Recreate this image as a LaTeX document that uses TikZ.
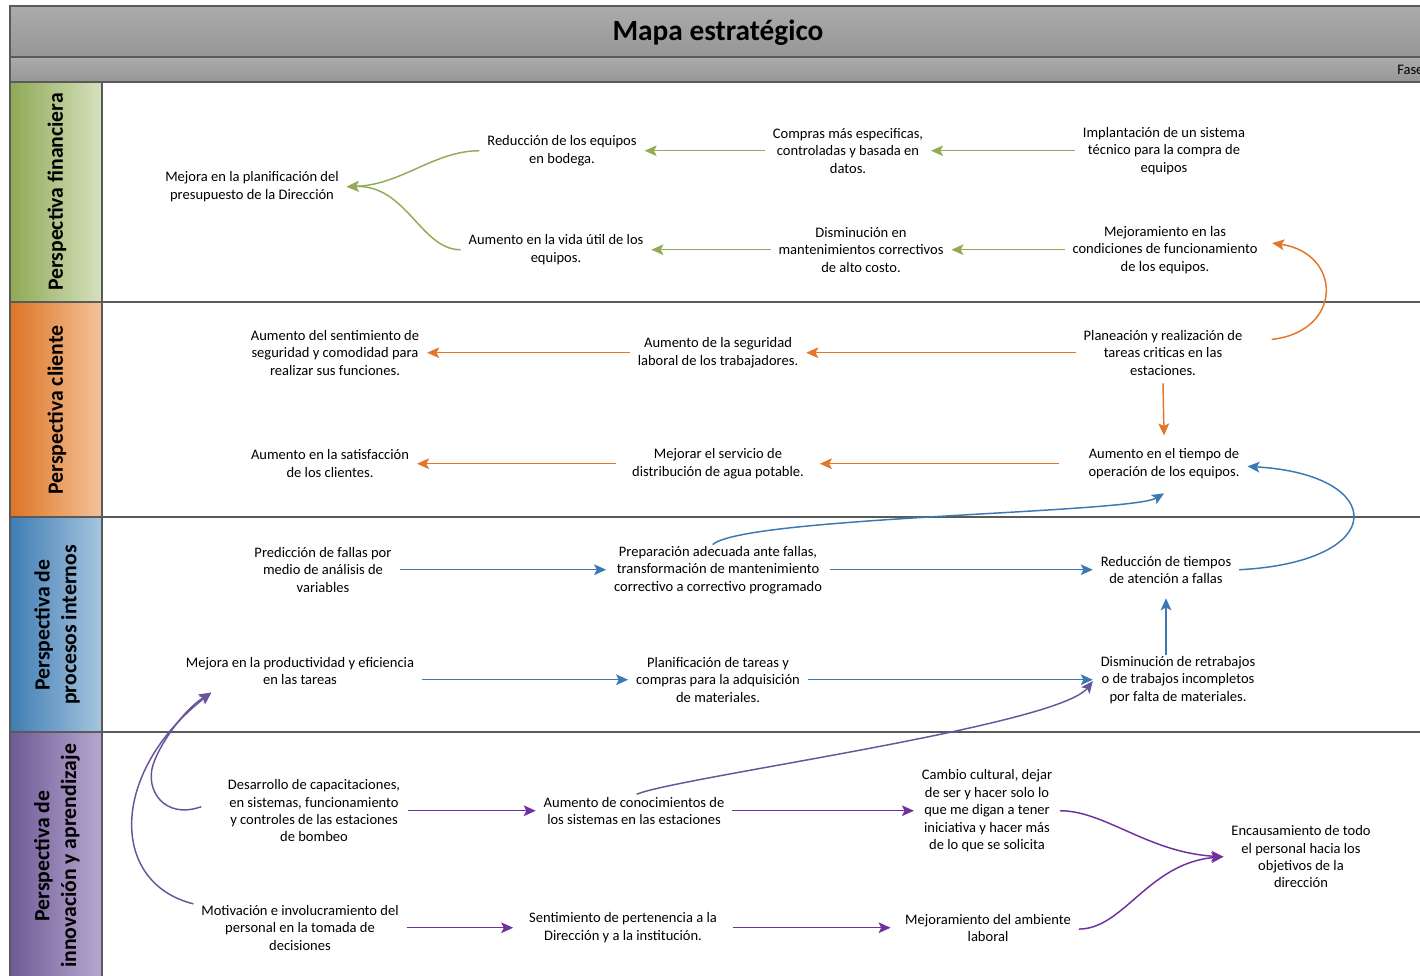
\documentclass[tikz,border=0pt]{standalone}
\usepackage{fontspec}
\setmainfont{Carlito}
\usetikzlibrary{arrows.meta}
\definecolor{grn}{HTML}{93AB57}
\definecolor{org}{HTML}{E2762A}
\definecolor{blu}{HTML}{3B78B4}
\definecolor{pur}{HTML}{7030A0}
\definecolor{mpur}{HTML}{6A5499}
\definecolor{frame}{HTML}{5A5A5A}
\definecolor{hdrT}{HTML}{ABABAB}
\definecolor{hdrB}{HTML}{969696}
\definecolor{finL}{HTML}{8FA955}
\definecolor{finR}{HTML}{D6E1BF}
\definecolor{cliL}{HTML}{DE7425}
\definecolor{cliR}{HTML}{F3C39A}
\definecolor{proL}{HTML}{3E7DB3}
\definecolor{proR}{HTML}{A7C5E0}
\definecolor{innL}{HTML}{6E5A96}
\definecolor{innR}{HTML}{B6A8CF}
\tikzset{
  txt/.style={align=center, inner sep=0pt, outer sep=6pt, font=\fontsize{10.9}{13.1}\selectfont, text=black, yshift=-1.3pt},
  lbl/.style={align=center, inner sep=0pt, rotate=90, font=\fontsize{16.3}{20}\selectfont\bfseries},
  conn/.style={line width=1.1pt, -{Stealth[length=9pt,width=8pt,inset=2pt]}},
  gconn/.style={conn, draw=grn, color=grn},
  oconn/.style={conn, draw=org, color=org},
  bconn/.style={conn, draw=blu, color=blu},
  pconn/.style={conn, draw=pur, color=pur},
  mconn/.style={conn, draw=mpur, color=mpur},
  cell/.style={draw=frame, line width=1.1pt},
}
\begin{document}
\begin{tikzpicture}[x=0.75pt,y=-0.75pt]
\useasboundingbox (0,0) rectangle (1420,975);
\fill[white] (0,0) rectangle (1420,975);
\begin{scope}
\clip (0,0) rectangle (1420,975);
% header bands
\shadedraw[cell, top color=hdrT, bottom color=hdrB] (10,6) rectangle (1440,57);
\shadedraw[cell, top color=hdrT, bottom color=hdrB] (10,57) rectangle (1440,82);
% rows
\draw[cell, fill=white] (102,82) rectangle (1440,302);
\draw[cell, fill=white] (102,302) rectangle (1440,517);
\draw[cell, fill=white] (102,517) rectangle (1440,732);
\draw[cell, fill=white] (102,732) rectangle (1440,990);
\shadedraw[cell, left color=finL, right color=finR] (10,82) rectangle (102,302);
\shadedraw[cell, left color=cliL, right color=cliR] (10,302) rectangle (102,517);
\shadedraw[cell, left color=proL, right color=proR] (10,517) rectangle (102,732);
\shadedraw[cell, left color=innL, right color=innR] (10,732) rectangle (102,990);

\node[font=\fontsize{22}{26}\selectfont\bfseries, inner sep=0pt] (title) at (718,33) {Mapa estratégico};
\node[anchor=west, inner sep=0pt, font=\fontsize{10.9}{13}\selectfont] (fase) at (1397,70) {Fase};

\node[lbl] (lblF) at (57,192) {Perspectiva financiera};
\node[lbl] (lblC) at (57,410) {Perspectiva cliente};
\node[lbl] (lblP) at (57,625) {Perspectiva de\\procesos internos};
\node[lbl] (lblI) at (57,856) {Perspectiva de\\innovación y aprendizaje};

% Financiera
\node[txt] (A1) at (252,185) {Mejora en la planificación del\\presupuesto de la Dirección};
\node[txt] (A2) at (562,149) {Reducción de los equipos\\en bodega.};
\node[txt] (A3) at (848,149) {Compras más especificas,\\controladas y basada en\\datos.};
\node[txt] (A4) at (1164,149) {Implantación de un sistema\\técnico para la compra de\\equipos};
\node[txt] (A5) at (556,248) {Aumento en la vida útil de los\\equipos.};
\node[txt] (A6) at (861,248) {Disminución en\\mantenimientos correctivos\\de alto costo.};
\node[txt] (A7) at (1165,248) {Mejoramiento en las\\condiciones de funcionamiento\\de los equipos.};

% Cliente
\node[txt] (B1) at (335,351) {Aumento del sentimiento de\\seguridad y comodidad para\\realizar sus funciones.};
\node[txt] (B2) at (718,351) {Aumento de la seguridad\\laboral de los trabajadores.};
\node[txt] (B3) at (1163,351) {Planeación y realización de\\tareas criticas en las\\estaciones.};
\node[txt] (B4) at (330,462) {Aumento en la satisfacción\\de los clientes.};
\node[txt] (B5) at (718,462) {Mejorar el servicio de\\distribución de agua potable.};
\node[txt] (B6) at (1164,462) {Aumento en el tiempo de\\operación de los equipos.};

% Procesos
\node[txt] (C1) at (323,568) {Predicción de fallas por\\medio de análisis de\\variables};
\node[txt] (C2) at (718,568) {Preparación adecuada ante fallas,\\transformación de mantenimiento\\correctivo a correctivo programado};
\node[txt] (C3) at (1166,568) {Reducción de tiempos\\de atención a fallas};
\node[txt] (C4) at (300,669) {Mejora en la productividad y eficiencia\\en las tareas};
\node[txt] (C5) at (718,678) {Planificación de tareas y\\compras para la adquisición\\de materiales.};
\node[txt] (C6) at (1178,678) {Disminución de retrabajos\\o de trabajos incompletos\\por falta de materiales.};

% Innovacion
\node[txt] (D1) at (314,809) {Desarrollo de capacitaciones,\\en sistemas, funcionamiento\\y controles de las estaciones\\de bombeo};
\node[txt] (D2) at (634,809) {Aumento de conocimientos de\\los sistemas en las estaciones};
\node[txt] (D3) at (987,809) {Cambio cultural, dejar\\de ser y hacer solo lo\\que me digan a tener\\iniciativa y hacer más\\de lo que se solicita};
\node[txt] (D4) at (1301,855) {Encausamiento de todo\\el personal hacia los\\objetivos de la\\dirección};
\node[txt] (D5) at (300,926) {Motivación e involucramiento del\\personal en la tomada de\\decisiones};
\node[txt] (D6) at (623,926) {Sentimiento de pertenencia a la\\Dirección y a la institución.};
\node[txt] (D7) at (988,926) {Mejoramiento del ambiente\\laboral};

% green connectors
\draw[gconn] (A4.west) -- (A3.east);
\draw[gconn] (A3.west) -- (A2.east);
\draw[gconn] (A7.west) -- (A6.east);
\draw[gconn] (A6.west) -- (A5.east);
\draw[gconn] (A2.west) .. controls +(-45,0) and +(55,-2) .. (A1.east);
\draw[gconn] (A5.west) .. controls +(-40,0) and +(60,-2) .. (A1.east);

% orange connectors
\draw[oconn] ([xshift=16pt,yshift=10pt]B3.east) .. controls +(72,-8) and +(70,10) .. ([xshift=5pt,yshift=5pt]A7.east);
\draw[oconn] (B3.west) -- (B2.east);
\draw[oconn] (B2.west) -- (B1.east);
\draw[oconn] ([xshift=-16pt]B6.west) -- ([xshift=6pt]B5.east);
\draw[oconn] ([xshift=-6pt]B5.west) -- (B4.east);
\draw[oconn] (B3.south) -- ([yshift=4pt]B6.north);

% blue connectors
\draw[bconn] (C1.east) -- (C2.west);
\draw[bconn] (C2.east) -- (C3.west);
\draw[bconn] (C4.east |- C5.west) -- (C5.west);
\draw[bconn] (C5.east) -- (C6.west);
\draw[bconn] ([yshift=-5pt]C3.south |- C6.north) -- ([yshift=-5pt]C3.south);
\draw[bconn] ([xshift=-4pt,yshift=-5pt]C2.north) .. controls +(30,-28) and +(-33,20) .. ([yshift=-5pt]B6.south);
\draw[bconn] (C3.east) .. controls +(152,-8) and +(140,8) .. ([yshift=-2pt]B6.east);

% purple connectors
\draw[pconn] (D1.east) -- (D2.west);
\draw[pconn] (D2.east) -- (D3.west);
\draw[pconn] (D5.east) -- ([xshift=-6pt]D6.west);
\draw[pconn] ([xshift=6pt]D6.east) -- ([xshift=-5pt]D7.west);
\draw[pconn] (D3.east) .. controls +(45,0) and +(-75,-4) .. (D4.west);
\draw[pconn] ([yshift=-1pt]D7.east) .. controls +(45,0) and +(-75,6) .. (D4.west);
\draw[mconn] ([xshift=2pt,yshift=-4pt]D2.north) .. controls +(40,-17) and +(-35,45) .. ([yshift=-1pt]C6.west);
\draw[mconn] ([xshift=-14pt,yshift=3pt]D1.west) .. controls +(-37,13) and +(-8,25) .. (153,765) .. controls +(7,-22) and +(-27,17) .. ([xshift=25pt]C4.south west);
\draw[mconn] ([yshift=-5pt]D5.north west) .. controls +(-84,-21) and +(-102,80) .. ([xshift=25pt]C4.south west);
\end{scope}
\end{tikzpicture}
\end{document}
